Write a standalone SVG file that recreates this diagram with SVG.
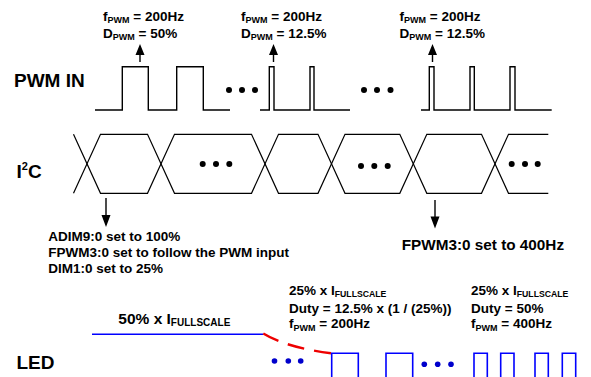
<svg xmlns="http://www.w3.org/2000/svg" width="591" height="377" viewBox="0 0 591 377">
<style>
text{font-family:"Liberation Sans",Arial,sans-serif;font-weight:bold;fill:#000}
.big{font-size:19px}
.lbl{font-size:13.5px}
.sub{font-size:9px}
.wave{fill:none;stroke:#000;stroke-width:1.4}
.bus{fill:none;stroke:#000;stroke-width:1.2}
.led{fill:none;stroke:#0000ff;stroke-width:1.6}
.arr{fill:none;stroke:#000;stroke-width:1.4}
.head{fill:#000;stroke:none}
.dot{fill:#000}
.bdot{fill:#0000cc}
</style>
<rect width="591" height="377" fill="#fff"/>

<g id="row-labels">
<text class="big" x="14" y="87">PWM IN</text>
<text class="big" x="16.5" y="178">I<tspan font-size="11" dy="-8">2</tspan><tspan dy="8">C</tspan></text>
<text class="big" x="16.5" y="369">LED</text>
</g>

<g id="pwm-in">
<path class="wave" d="M95 110H122.3V66.7H148.3V110H176.7V66.7H203.3V110H230M260 110H269.3V66.7H274V110H310V66.7H314V110H350M421 110H429.3V66.7H434V110H470V66.7H474.3V110H510V66.7H515V110H551.7"/>
<circle class="dot" cx="229" cy="90" r="3"/><circle class="dot" cx="242" cy="90" r="3"/><circle class="dot" cx="255" cy="90" r="3"/>
<circle class="dot" cx="364" cy="90" r="3"/><circle class="dot" cx="377" cy="90" r="3"/><circle class="dot" cx="390.5" cy="90" r="3"/>
</g>

<g id="pwm-label-1">
<text class="lbl" x="103" y="20.7">f<tspan class="sub" dy="2.5">PWM</tspan><tspan dy="-2.5"> = 200Hz</tspan></text>
<text class="lbl" x="103" y="37.7">D<tspan class="sub" dy="2.5">PWM</tspan><tspan dy="-2.5"> = 50%</tspan></text>
</g>
<g id="pwm-label-2">
<text class="lbl" x="241" y="20.7">f<tspan class="sub" dy="2.5">PWM</tspan><tspan dy="-2.5"> = 200Hz</tspan></text>
<text class="lbl" x="241" y="37.7">D<tspan class="sub" dy="2.5">PWM</tspan><tspan dy="-2.5"> = 12.5%</tspan></text>
</g>
<g id="pwm-label-3">
<text class="lbl" x="399.5" y="20.7">f<tspan class="sub" dy="2.5">PWM</tspan><tspan dy="-2.5"> = 200Hz</tspan></text>
<text class="lbl" x="399.5" y="37.7">D<tspan class="sub" dy="2.5">PWM</tspan><tspan dy="-2.5"> = 12.5%</tspan></text>
</g>

<g id="i2c-bus">
<path class="bus" d="M73.5 134.3L100.5 193.3H147.5L174.5 134.3H251.5L278.5 193.3H318L345 134.3H399.8L426.8 193.3H481.5L508.5 134.3H548.3"/>
<path class="bus" d="M73.5 193.3L100.5 134.3H147.5L174.5 193.3H251.5L278.5 134.3H318L345 193.3H399.8L426.8 134.3H481.5L508.5 193.3H548.3"/>
<circle class="dot" cx="202.7" cy="164" r="3"/><circle class="dot" cx="216" cy="164" r="3"/><circle class="dot" cx="229.3" cy="164" r="3"/>
<circle class="dot" cx="361" cy="166" r="3"/><circle class="dot" cx="374.3" cy="166" r="3"/><circle class="dot" cx="387.7" cy="166" r="3"/>
<circle class="dot" cx="511.7" cy="164" r="3"/><circle class="dot" cx="525" cy="164" r="3"/><circle class="dot" cx="537.7" cy="164" r="3"/>
</g>

<g id="i2c-label-1">
<text class="lbl" x="48.3" y="241">ADIM9:0 set to 100%</text>
<text class="lbl" x="48.3" y="257">FPWM3:0 set to follow the PWM input</text>
<text class="lbl" x="48.3" y="273">DIM1:0 set to 25%</text>
</g>
<g id="i2c-label-2">
<text x="401.7" y="250" font-size="15.3">FPWM3:0 set to 400Hz</text>
</g>

<g id="connectors">
<path class="arr" d="M140 62V52M273.5 62V52M432.5 62V52M106 198V217M435 200V218"/>
<path class="head" d="M135.5 55L140 44L144.5 55zM269 55L273.5 44L278 55zM428 55L432.5 44L437 55zM101.5 215L106 227L110.5 215zM430.5 216.5L435 228.5L439.5 216.5z"/>
</g>

<g id="led">
<path class="led" d="M92 334.3H263.3"/>
<path d="M263.3 333.5Q286 347.5 331.7 353.3" fill="none" stroke="#ee0000" stroke-width="2.4" stroke-dasharray="17 10"/>
<path class="led" d="M331.7 380V353.3H358.3V380M386 380V353.3H412.7V380M474 380V353.3H487.3V380M500.7 380V353.3H514V380M535 380V353.3H548.3V380M562.3 380V353.3H575.7V380"/>
<circle class="bdot" cx="274.5" cy="361" r="2.8"/><circle class="bdot" cx="288.3" cy="361" r="2.8"/><circle class="bdot" cx="300.7" cy="361" r="2.8"/>
<circle class="bdot" cx="424.3" cy="364.3" r="2.8"/><circle class="bdot" cx="437.7" cy="364.3" r="2.8"/><circle class="bdot" cx="451" cy="364.3" r="2.8"/>
</g>

<g id="led-label-1">
<text x="118.3" y="324.3" font-size="15.5">50% x I<tspan font-size="10" dy="2">FULLSCALE</tspan></text>
</g>
<g id="led-label-2">
<text class="lbl" x="289" y="295">25% x I<tspan font-size="8.7" dy="2">FULLSCALE</tspan></text>
<text class="lbl" x="289" y="312.7">Duty = 12.5% x (1 / (25%))</text>
<text class="lbl" x="289" y="328.3">f<tspan class="sub" dy="2.5">PWM</tspan><tspan dy="-2.5"> = 200Hz</tspan></text>
</g>
<g id="led-label-3">
<text class="lbl" x="471" y="295">25% x I<tspan font-size="8.7" dy="2">FULLSCALE</tspan></text>
<text class="lbl" x="471" y="312.7">Duty = 50%</text>
<text class="lbl" x="471" y="328.3">f<tspan class="sub" dy="2.5">PWM</tspan><tspan dy="-2.5"> = 400Hz</tspan></text>
</g>
</svg>
